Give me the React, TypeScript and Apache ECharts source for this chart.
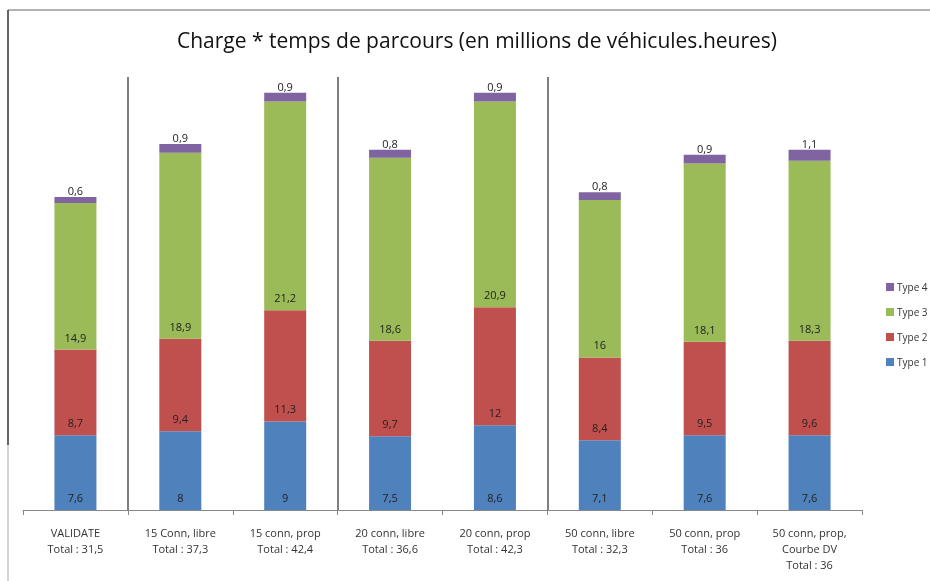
import React, { useEffect, useRef } from "react";
import * as echarts from "echarts";

const categories = [
  "VALIDATE",
  "15 Conn, libre",
  "15 conn, prop",
  "20 conn, libre",
  "20 conn, prop",
  "50 conn, libre",
  "50 conn, prop",
  "50 conn, prop,\nCourbe DV",
];
const totals = ["31,5", "37,3", "42,4", "36,6", "42,3", "32,3", "36", "36"];
const type1 = [7.6, 8, 9, 7.5, 8.6, 7.1, 7.6, 7.6];
const type2 = [8.7, 9.4, 11.3, 9.7, 12, 8.4, 9.5, 9.6];
const type3 = [14.9, 18.9, 21.2, 18.6, 20.9, 16, 18.1, 18.3];
const type4 = [0.6, 0.9, 0.9, 0.8, 0.9, 0.8, 0.9, 1.1];
const separators = [1, 3, 5];

const FONT = "'Open Sans', 'Noto Sans', sans-serif";

export default function App() {
  const ref = useRef<HTMLDivElement>(null);
  useEffect(() => {
    if (!ref.current) return;
    const chart = echarts.init(ref.current, undefined, { renderer: "svg" });
    const fmt = (p: any) => String(p.value).replace(".", ",");
    const mk = (name: string, data: number[], color: string, pos: string, dist: number) => ({
      name,
      type: "bar",
      stack: "total",
      barWidth: 42,
      data,
      itemStyle: { color },
      label: {
        show: true,
        position: pos,
        formatter: fmt,
        color: "#222",
        fontSize: 11,
        fontFamily: FONT,
        distance: dist,
      },
    });
    chart.setOption({
      animation: false,
      title: {
        text: "Charge * temps de parcours (en millions de véhicules.heures)",
        left: 472,
        textAlign: "center",
        top: 24,
        textStyle: { fontSize: 21, fontWeight: "normal", color: "#111", fontFamily: FONT },
      },
      legend: {
        orient: "vertical",
        left: 881,
        top: 277,
        itemWidth: 8,
        itemHeight: 8,
        itemGap: 15,
        icon: "rect",
        data: ["Type 4", "Type 3", "Type 2", "Type 1"],
        textStyle: { fontSize: 10, color: "#333", fontFamily: FONT, padding: [0, 0, 0, -2] },
      },
      grid: { left: 23, right: 68, top: 77, bottom: 71 },
      xAxis: [
        {
          type: "category",
          data: categories.map((c, i) => c + "\nTotal : " + totals[i]),
          axisLine: { lineStyle: { color: "#888", width: 1 } },
          axisTick: { show: true, alignWithLabel: false, length: 5, lineStyle: { color: "#888" } },
          axisLabel: {
            color: "#333",
            fontSize: 11,
            fontFamily: FONT,
            lineHeight: 16,
            margin: 14,
            interval: 0,
          },
        },
        { type: "value", min: 0, max: 8, show: false },
      ],
      yAxis: { type: "value", min: 0, max: 44, show: false, splitLine: { show: false } },
      series: [
        mk("Type 1", type1, "#4F81BD", "insideBottom", 7),
        mk("Type 2", type2, "#C0504D", "insideBottom", 7),
        mk("Type 3", type3, "#9BBB59", "insideBottom", 7),
        mk("Type 4", type4, "#8064A2", "top", 1),
        {
          name: "sep",
          type: "line",
          xAxisIndex: 1,
          data: [],
          silent: true,
          markLine: {
            silent: true,
            symbol: "none",
            label: { show: false },
            lineStyle: { color: "#555", width: 1.5, type: "solid" },
            data: separators.map((v) => ({ xAxis: v })),
          },
        },
      ],
      graphic: [
        { type: "line", shape: { x1: 8, y1: 10, x2: 930, y2: 10 }, style: { stroke: "#999", lineWidth: 1.5 } },
        { type: "line", shape: { x1: 8, y1: 10, x2: 8, y2: 445 }, style: { stroke: "#333", lineWidth: 1.5 } },
        { type: "line", shape: { x1: 8, y1: 445, x2: 8, y2: 581 }, style: { stroke: "#aaa", lineWidth: 1 } },
      ],
    });
    return () => chart.dispose();
  }, []);
  return <div ref={ref} style={{ width: 930, height: 581, position: "fixed", left: 0, top: 0 }} />;
}
